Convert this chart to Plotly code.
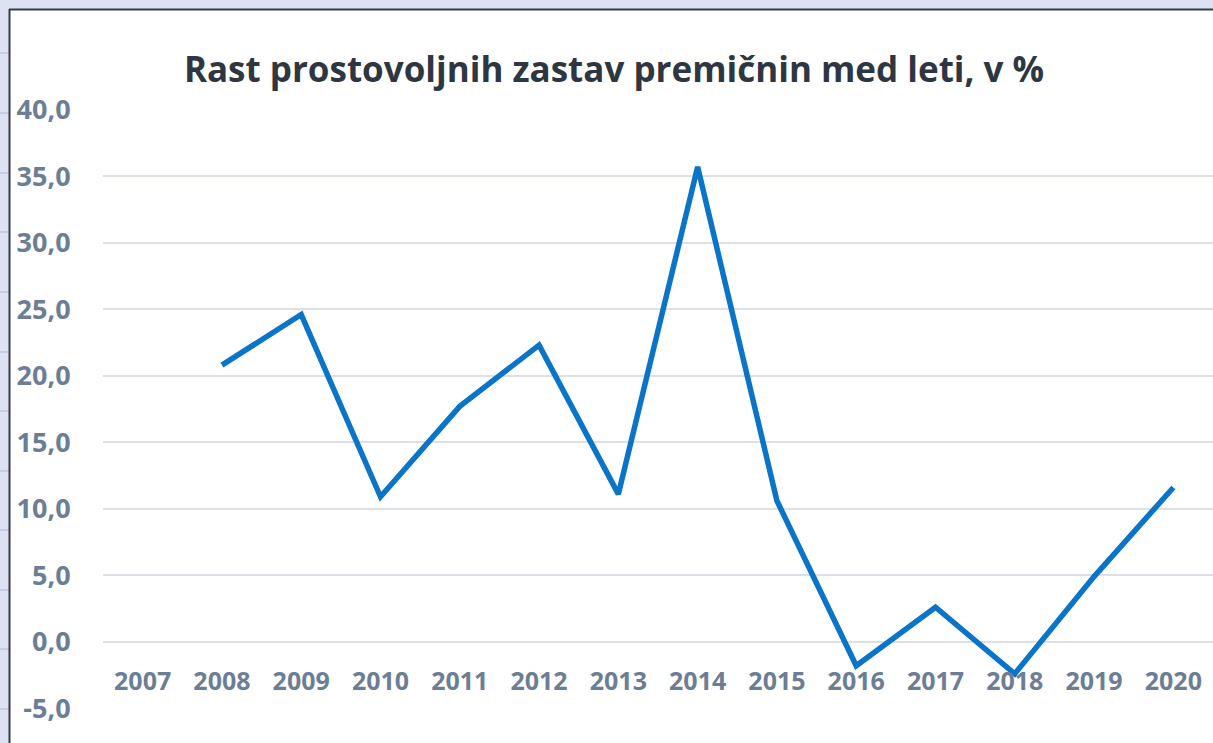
import plotly.graph_objects as go

# ---- data ----
years = ["2007", "2008", "2009", "2010", "2011", "2012", "2013",
         "2014", "2015", "2016", "2017", "2018", "2019", "2020"]
growth = [None, 20.8, 24.6, 10.9, 17.7, 22.3, 11.1,
          35.7, 10.6, -1.8, 2.6, -2.4, 4.9, 11.6]
title_text = "Rast prostovoljnih zastav premičnin med leti, v %"
y_ticks = [-5, 0, 5, 10, 15, 20, 25, 30, 35, 40]
y_ticktext = [f"{v:.1f}".replace(".", ",") for v in y_ticks]

# ---- layout geometry (pixels) ----
W, H = 1213, 743
ML, MR, MT, MB = 103, 0, 109, 34
PW, PH = W - ML - MR, H - MT - MB
YMIN, YMAX = -5.05, 40.05


def px_x(px):
    return (px - ML) / PW


def px_y(py):
    return (H - MB - py) / PH


fig = go.Figure()
fig.add_trace(go.Scatter(
    x=years, y=growth, mode="lines",
    line=dict(color="#0a74c8", width=5.5),
    connectgaps=False, hoverinfo="x+y", showlegend=False,
))

shapes = []
# white chart area on the spreadsheet-coloured page
shapes.append(dict(type="rect", xref="paper", yref="paper", layer="below",
                   x0=px_x(10), x1=px_x(W + 5), y0=px_y(H + 5), y1=px_y(10),
                   fillcolor="white", line=dict(width=0)))
# spreadsheet cell lines in the left strip
for py in [53, 113, 173, 232, 292, 352, 411, 471, 530, 590, 649, 709]:
    shapes.append(dict(type="line", xref="paper", yref="paper", layer="below",
                       x0=px_x(0), x1=px_x(9), y0=px_y(py), y1=px_y(py),
                       line=dict(color="#a9b9e2", width=1)))
# dark chart border (left and top)
shapes.append(dict(type="line", xref="paper", yref="paper", layer="above",
                   x0=px_x(9.5), x1=px_x(9.5), y0=px_y(H + 5), y1=px_y(9),
                   line=dict(color="#343c47", width=2)))
shapes.append(dict(type="line", xref="paper", yref="paper", layer="above",
                   x0=px_x(9), x1=px_x(W + 5), y0=px_y(9.5), y1=px_y(9.5),
                   line=dict(color="#343c47", width=2)))

zero_pos = (0 - YMIN) / (YMAX - YMIN)

fig.update_layout(
    width=W, height=H,
    margin=dict(l=ML, r=MR, t=MT, b=MB, pad=0),
    paper_bgcolor="#dde2f2",
    plot_bgcolor="rgba(0,0,0,0)",
    separators=", ",
    font=dict(family="Open Sans", color="#6b7e95"),
    title=dict(text="<b>" + title_text + "</b>",
               font=dict(family="Open Sans", size=35, color="#2e3642"),
               x=px_x(614), xref="paper", xanchor="center",
               y=1 - 70 / H, yref="container", yanchor="middle"),
    xaxis=dict(type="category", categoryorder="array", categoryarray=years,
               range=[-0.5, len(years) - 0.5],
               showgrid=False, zeroline=False, showline=False,
               anchor="free", position=zero_pos,
               ticks="outside", ticklen=17, tickcolor="rgba(0,0,0,0)",
               tickfont=dict(family="Open Sans", size=25, color="#6b7e95",
                             weight="bold")),
    yaxis=dict(range=[YMIN, YMAX], tickvals=y_ticks, ticktext=y_ticktext,
               showgrid=True, gridcolor="#dde0e5", gridwidth=2,
               zeroline=False, showline=False,
               ticks="outside", ticklen=26, tickcolor="rgba(0,0,0,0)",
               tickfont=dict(family="Open Sans", size=27, color="#6b7e95",
                             weight="bold")),
    shapes=shapes,
)

fig.write_html(
    "out.html",
    config={"displayModeBar": False},
    post_script="document.body.style.margin='0';"
                "document.body.style.padding='0';"
                "document.body.style.overflow='hidden';",
)
